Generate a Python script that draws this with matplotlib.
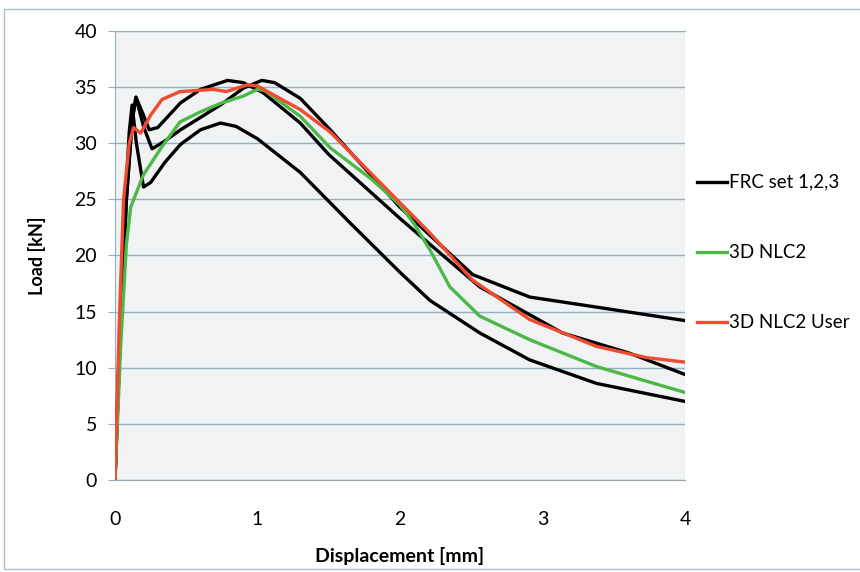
import matplotlib.pyplot as plt
from matplotlib.patches import Rectangle

# Load-displacement curves (x in mm, y in kN)
frc1_x = [0, 0.04, 0.08, 0.12, 0.147, 0.2, 0.24, 0.3, 0.46, 0.6, 0.79, 0.9, 1.04, 1.3, 1.5, 2.0, 2.21, 2.56, 3.14, 3.61, 4.0]
frc1_y = [0, 14, 25, 32, 34.1, 32.5, 31.2, 31.4, 33.6, 34.8, 35.6, 35.4, 34.5, 31.8, 29.0, 23.3, 21.0, 17.2, 13.1, 11.3, 9.4]

frc2_x = [0, 0.04, 0.08, 0.12, 0.147, 0.2, 0.26, 0.35, 0.46, 0.6, 0.75, 0.9, 1.03, 1.12, 1.3, 1.51, 2.0, 2.21, 2.51, 2.91, 3.38, 4.0]
frc2_y = [0, 14, 25, 32, 34.1, 31.5, 29.5, 30.2, 31.2, 32.3, 33.5, 34.9, 35.6, 35.4, 34.0, 31.2, 24.3, 21.8, 18.3, 16.3, 15.4, 14.2]

frc3_x = [0, 0.03, 0.06, 0.1, 0.12, 0.15, 0.2, 0.25, 0.35, 0.46, 0.6, 0.74, 0.85, 1.0, 1.3, 1.65, 2.0, 2.21, 2.56, 2.91, 3.38, 4.0]
frc3_y = [0, 12, 22, 31, 33.4, 30, 26.1, 26.5, 28.3, 29.9, 31.2, 31.8, 31.5, 30.4, 27.4, 22.9, 18.5, 16.0, 13.1, 10.7, 8.6, 7.0]

nlc2_x = [0, 0.04, 0.08, 0.11, 0.15, 0.2, 0.33, 0.456, 0.6, 0.75, 0.9, 1.0, 1.05, 1.3, 1.51, 1.8, 2.0, 2.1, 2.21, 2.35, 2.56, 2.91, 3.38, 4.0]
nlc2_y = [0, 12, 21, 24.3, 25.6, 27.2, 29.7, 31.9, 32.8, 33.6, 34.2, 34.8, 34.7, 32.4, 29.6, 26.8, 24.5, 22.8, 20.5, 17.2, 14.6, 12.5, 10.1, 7.8]

user_x = [0, 0.03, 0.06, 0.1, 0.13, 0.18, 0.25, 0.33, 0.456, 0.69, 0.78, 0.93, 1.0, 1.1, 1.3, 1.51, 2.0, 2.21, 2.51, 2.91, 3.38, 3.73, 4.0]
user_y = [0, 14, 25, 30, 31.4, 30.9, 32.5, 33.9, 34.6, 34.8, 34.6, 35.2, 35.1, 34.4, 33.0, 31.0, 24.7, 22.0, 17.8, 14.3, 11.9, 10.9, 10.5]

x_ticks = [0, 1, 2, 3, 4]
y_ticks = [0, 5, 10, 15, 20, 25, 30, 35, 40]
labels = ['FRC set 1,2,3', '3D NLC2', '3D NLC2 User']
colors = ['#000000', '#4DB848', '#EF4B2F']

plt.rcParams['font.family'] = ['Lato', 'DejaVu Sans']

fig = plt.figure(figsize=(8.6, 5.72), dpi=100)
fig.patches.append(Rectangle((0.005, 0.005), 1.2, 0.98, transform=fig.transFigure,
                             fill=False, edgecolor='#A9C0CC', linewidth=1.0))

# plot area in pixels: left 115, right 685, top 31, bottom 480
ax = fig.add_axes([115 / 860, 1 - 480 / 572, 570 / 860, 449 / 572])
ax.set_facecolor('#F0F2F4')

lw = 2.4
ax.plot(frc1_x, frc1_y, color=colors[0], lw=lw, solid_joinstyle='round', zorder=3)
ax.plot(frc2_x, frc2_y, color=colors[0], lw=lw, solid_joinstyle='round', zorder=3)
ax.plot(frc3_x, frc3_y, color=colors[0], lw=lw, solid_joinstyle='round', zorder=3)
ax.plot(nlc2_x, nlc2_y, color=colors[1], lw=lw, solid_joinstyle='round', zorder=4)
ax.plot(user_x, user_y, color=colors[2], lw=lw, solid_joinstyle='round', zorder=5)

ax.set_xlim(0, 4)
ax.set_ylim(0, 40)
ax.set_xticks(x_ticks)
ax.set_yticks(y_ticks)
ax.yaxis.grid(True, color='#8DB0C4', linewidth=1.0)
ax.set_axisbelow(True)
ax.tick_params(axis='x', labelsize=14, length=0, pad=22)
ax.tick_params(axis='y', labelsize=14, length=5, color='#8DB0C4', pad=8)

ax.spines['right'].set_visible(False)
ax.spines['top'].set_color('#8DB0C4')
ax.spines['left'].set_color('#8DB0C4')
ax.spines['bottom'].set_color('#9AA6AE')

ax.set_xlabel('Displacement [mm]', fontsize=14, fontweight='bold', labelpad=14)
ax.set_ylabel('Load [kN]', fontsize=13, fontweight='bold', labelpad=20)

# legend drawn at the right, outside the plot area
for i, (lab, c) in enumerate(zip(labels, colors)):
    yf = 1 - (182 + 70 * i) / 572
    fig.add_artist(plt.Line2D([697 / 860, 727 / 860], [yf, yf], color=c, lw=lw,
                              transform=fig.transFigure))
    fig.text(729 / 860, yf, lab, fontsize=13.5, va='center', ha='left')

fig.savefig('out.png', dpi=100)
